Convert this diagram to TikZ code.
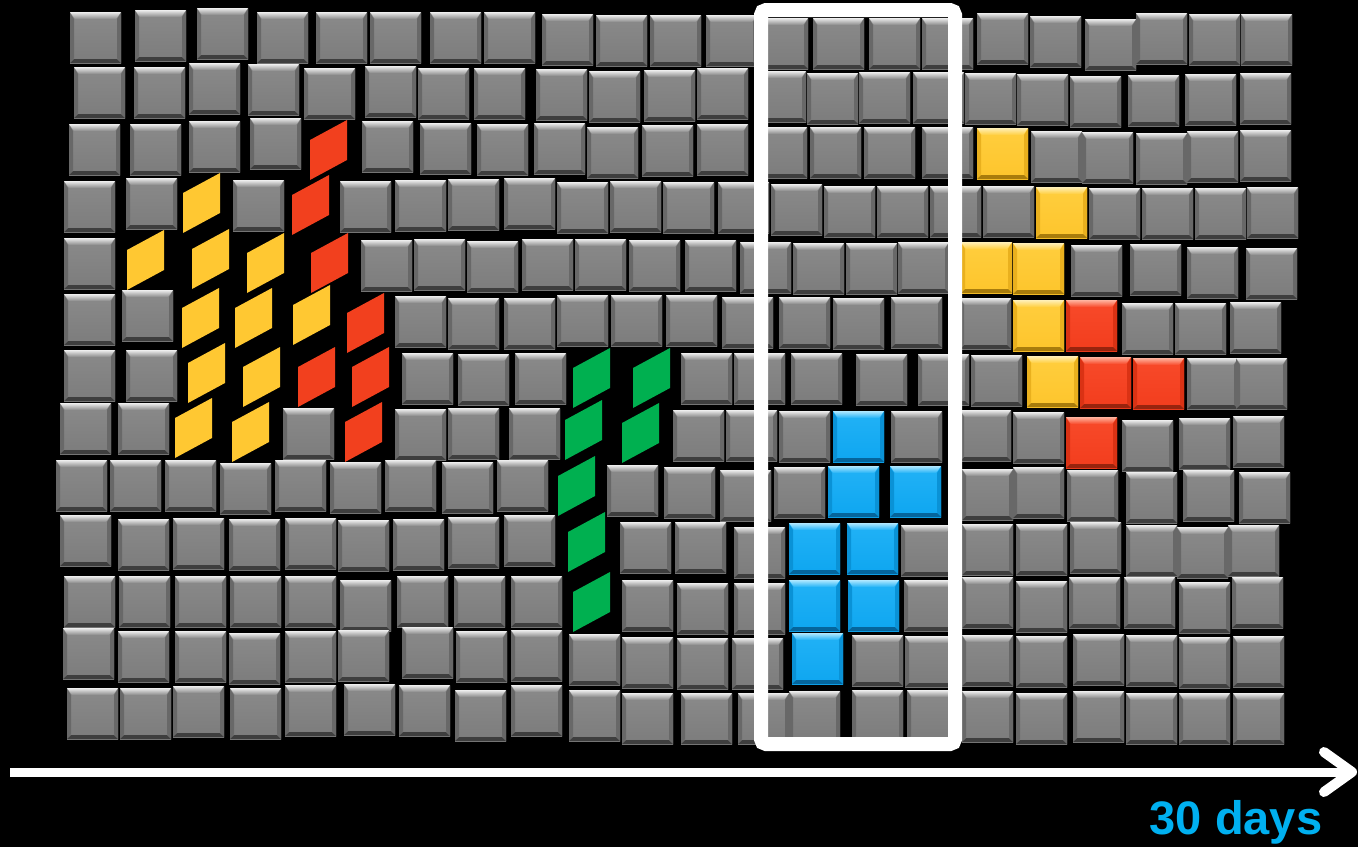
\documentclass[tikz,border=0pt]{standalone}
\usepackage{fontspec}
\setmainfont{Liberation Sans}
\definecolor{gbase}{HTML}{7C7C7C}
\definecolor{gtop}{HTML}{8A8A8A}
\definecolor{ghi}{HTML}{EEEEEE}
\definecolor{gside}{HTML}{686868}
\definecolor{gdark}{HTML}{3E3E3E}
\definecolor{bbase}{HTML}{0EA6F0}
\definecolor{btop}{HTML}{22B2F6}
\definecolor{bhi}{HTML}{B0E8FF}
\definecolor{bside}{HTML}{0A92D6}
\definecolor{bdark}{HTML}{05659C}
\definecolor{ybase}{HTML}{FDC52C}
\definecolor{ytop}{HTML}{FFCE3E}
\definecolor{yhi}{HTML}{FFF0B8}
\definecolor{yside}{HTML}{E9B01E}
\definecolor{ydark}{HTML}{A87C0C}
\definecolor{rbase}{HTML}{F23D1D}
\definecolor{rtop}{HTML}{F84A2A}
\definecolor{rhi}{HTML}{FFB4A0}
\definecolor{rside}{HTML}{DA3214}
\definecolor{rdark}{HTML}{98240E}
\definecolor{pyel}{HTML}{FFC832}
\definecolor{pred}{HTML}{F2401E}
\definecolor{pgrn}{HTML}{00B050}
\definecolor{txtblue}{HTML}{00B0F0}
\newcommand\mytile[3]{%
  \shade[top color=#3top, bottom color=#3base] (#1,#2) rectangle (#1+51,#2+51);
  \shade[top color=#3hi, bottom color=#3top] (#1,#2) -- (#1+51,#2) -- (#1+46,#2+7) -- (#1+5,#2+7) -- cycle;
  \fill[#3side] (#1,#2+1) -- (#1+4,#2+7) -- (#1+4,#2+46) -- (#1,#2+51) -- cycle;
  \fill[#3side] (#1+51,#2+1) -- (#1+47,#2+7) -- (#1+47,#2+46) -- (#1+51,#2+51) -- cycle;
  \fill[#3dark] (#1,#2+51) -- (#1+4,#2+47) -- (#1+47,#2+47) -- (#1+51,#2+51) -- cycle;
}
\newcommand\mypara[3]{\fill[#3] (#1,#2+20) -- (#1+37,#2) -- (#1+37,#2+40) -- (#1,#2+60) -- cycle;}
\tikzset{
  axisline/.style={white, line width=9pt},
  axistip/.style={white, line width=10pt, line cap=round, line join=round},
  framebox/.style={white, line width=14pt, rounded corners=5pt},
  daylabel/.style={text=txtblue, font=\fontsize{47}{56}\selectfont\bfseries, inner sep=0pt}
}
\begin{document}
\begin{tikzpicture}[x=1pt,y=-1pt]
\fill[black] (0,0) rectangle (1358,847);
\useasboundingbox (0,0) rectangle (1358,847);
% gray tiles
\foreach \x/\y in {
70/12, 135/10, 197/8, 257/12, 316/12, 370/12, 430/12, 484/12, 542/14, 596/15, 650/15, 706/15, 757/18, 813/18, 869/18, 922/18, 977/13, 1030/16, 1085/19, 1136/13, 1189/14, 1241/14,
74/67, 134/67, 189/63, 248/64, 304/68, 365/66, 418/68, 474/68, 536/69, 589/71, 644/70, 697/68, 755/71, 807/73, 859/72, 913/72, 965/73, 1017/74, 1070/76, 1128/75, 1185/74, 1240/73,
69/124, 130/124, 189/121, 250/118, 362/121, 420/123, 477/124, 534/123, 587/127, 642/125, 697/124, 756/127, 810/127, 864/127, 922/127, 1031/131, 1082/132, 1136/133, 1187/131, 1240/130,
64/181, 126/178, 233/180, 340/181, 395/180, 448/179, 504/178, 557/182, 610/181, 663/182, 718/182, 771/184, 824/186, 877/186, 930/186, 983/186, 1089/188, 1142/188, 1195/188, 1247/187,
64/238, 361/240, 414/239, 467/241, 522/239, 575/239, 629/240, 685/240, 740/242, 793/243, 846/243, 898/242, 1071/245, 1130/244, 1187/247, 1246/248,
64/294, 122/290, 395/296, 448/298, 504/298, 557/295, 611/295, 666/295, 722/297, 779/297, 833/298, 891/297, 960/298, 1122/303, 1175/303, 1230/302,
64/350, 126/350, 402/353, 458/354, 515/353, 681/353, 734/353, 791/353, 856/354, 918/354, 971/355, 1187/358, 1236/358,
60/403, 118/403, 283/408, 395/409, 448/408, 509/408, 673/410, 726/410, 779/411, 891/411, 960/410, 1013/412, 1122/420, 1179/418, 1233/416,
56/460, 110/460, 165/460, 220/463, 275/460, 330/462, 385/460, 442/462, 497/460, 607/465, 664/467, 720/470, 774/467, 962/469, 1013/467, 1067/470, 1126/472, 1183/470, 1239/472,
60/515, 118/519, 173/518, 229/519, 285/518, 338/520, 393/519, 448/517, 504/515, 620/522, 675/522, 734/527, 901/525, 962/524, 1016/524, 1070/522, 1126/525, 1177/527, 1228/525,
64/576, 119/576, 175/576, 230/576, 285/576, 340/580, 397/576, 454/576, 511/576, 622/580, 677/583, 734/583, 904/580, 962/577, 1016/581, 1069/577, 1124/577, 1179/582, 1232/577,
63/628, 118/631, 175/631, 229/633, 285/631, 338/630, 402/627, 456/631, 511/630, 569/634, 622/637, 677/638, 732/638, 852/635, 905/636, 962/635, 1016/636, 1073/634, 1126/635, 1179/637, 1233/636,
67/688, 120/688, 173/686, 230/688, 285/685, 344/684, 399/685, 455/690, 511/685, 569/690, 622/693, 681/693, 738/693, 789/691, 852/690, 907/690, 962/691, 1016/693, 1073/691, 1126/693, 1179/693, 1233/693}
  {\mytile{\x}{\y}{g}}
% blue tiles
\foreach \x/\y in {833/411, 828/466, 890/466, 789/523, 847/523, 789/580, 848/580, 792/633}
  {\mytile{\x}{\y}{b}}
% right yellow tiles
\foreach \x/\y in {977/128, 1036/187, 961/242, 1013/243, 1013/300, 1027/356}
  {\mytile{\x}{\y}{y}}
% right red tiles
\foreach \x/\y in {1066/300, 1080/357, 1133/358, 1066/417}
  {\mytile{\x}{\y}{r}}
% parallelograms
\foreach \x/\y in {310/120, 292/175, 311/233, 347/293, 298/347, 352/347, 345/402}
  {\mypara{\x}{\y}{pred}}
\foreach \x/\y in {183/173, 127/230, 192/229, 247/233, 182/288, 235/288, 293/285, 188/343, 243/347, 175/398, 232/402}
  {\mypara{\x}{\y}{pyel}}
\foreach \x/\y in {573/348, 633/348, 565/400, 622/403, 558/456, 568/512, 573/572}
  {\mypara{\x}{\y}{pgrn}}
% highlight frame
\draw[framebox] (761,10) rectangle (955,744);
% time axis
\coordinate (axstart) at (10,772);
\coordinate (axend) at (1352,772);
\coordinate (tipup) at (1324,752);
\coordinate (tipdown) at (1324,792);
\draw[axisline] (axstart) -- (axend);
\draw[axistip] (tipup) -- (axend) -- (tipdown);
\node[daylabel, anchor=base] (days) at (1236,834) {30 days};
\end{tikzpicture}
\end{document}
